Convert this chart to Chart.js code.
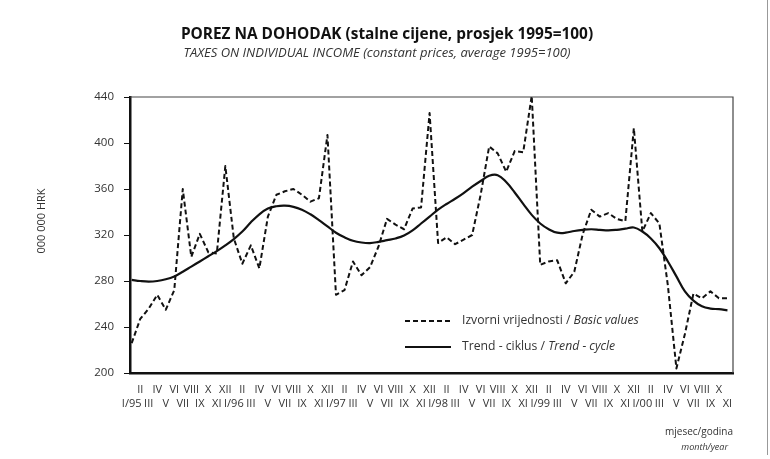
<!DOCTYPE html>
<html>
<head>
<meta charset="utf-8">
<script src="https://cdn.jsdelivr.net/npm/chart.js@4.4.1/dist/chart.umd.min.js"></script>
<style>
  html, body { margin: 0; padding: 0; background: #fff; }
</style>
</head>
<body>
<canvas id="porez" width="770" height="459"></canvas>
<script>
// months I/95 .. XI/00
const romans = ['I', 'II', 'III', 'IV', 'V', 'VI', 'VII', 'VIII', 'IX', 'X', 'XI', 'XII'];
const years = ['95', '96', '97', '98', '99', '00'];

const basicValues = [
  226, 247, 256, 268, 255, 272, 360, 301, 321, 305, 304, 380,
  317, 295, 311, 291, 336, 355, 358, 360, 355, 349, 352, 407,
  268, 272, 297, 285, 292, 310, 334, 329, 325, 343, 344, 426,
  313, 318, 312, 316, 320, 355, 397, 391, 375, 393, 392, 441,
  294, 297, 298, 278, 288, 321, 342, 336, 339, 334, 332, 413,
  323, 339, 330, 276, 204, 234, 269, 265, 271, 265, 265
];

const trendCycle = [
  281, 280, 279.5, 280, 281.5, 284, 288, 292.5, 297, 301.5, 306, 311,
  316.5, 323, 331, 338, 343, 345, 345.5, 344.5, 342, 338, 333, 327.5,
  322, 318, 315, 313.5, 313, 314, 315.5, 317, 319.5, 324, 330, 336,
  342, 347, 351.5, 356.5, 362, 367, 371.5, 372, 366, 357, 347, 337.5,
  330, 325, 322, 322, 323.5, 324.5, 325, 324.5, 324, 324.5, 325.5, 326.5,
  323, 317, 308.5, 297, 284, 271, 263, 258, 256, 255.5, 254.5
];

const yTicks = [200, 240, 280, 320, 360, 400, 440];

const monthLabels = basicValues.map((v, i) => {
  const m = i % 12;
  return m === 0 ? romans[m] + '/' + years[Math.floor(i / 12)] : romans[m];
});

const FONT = '"Open Sans", Lato, sans-serif';
const INK = '#111';
const TEXT = '#333';
const DASH = [5, 3];

const textPlugin = {
  id: 'texts',
  afterDraw(chart) {
    const { ctx, chartArea: a } = chart;
    ctx.save();

    // top/right frame
    ctx.strokeStyle = '#444';
    ctx.lineWidth = 1.2;
    ctx.beginPath();
    ctx.moveTo(a.left, a.top);
    ctx.lineTo(a.right, a.top);
    ctx.lineTo(a.right, a.bottom);
    ctx.stroke();

    // page edge line
    ctx.strokeStyle = '#999';
    ctx.lineWidth = 1;
    ctx.beginPath();
    ctx.moveTo(767.5, 0);
    ctx.lineTo(767.5, 455);
    ctx.stroke();

    ctx.textBaseline = 'middle';
    ctx.textAlign = 'center';
    ctx.fillStyle = INK;
    ctx.font = 'bold 15.4px ' + FONT;
    ctx.fillText('POREZ NA DOHODAK (stalne cijene, prosjek 1995=100)', 387, 35);
    ctx.fillStyle = TEXT;
    ctx.font = 'italic 13px ' + FONT;
    ctx.fillText('TAXES ON INDIVIDUAL INCOME (constant prices, average 1995=100)', 377, 53);

    // y title
    ctx.save();
    ctx.translate(42, 221);
    ctx.rotate(-Math.PI / 2);
    ctx.font = '11px ' + FONT;
    ctx.fillText('000 000 HRK', 0, 0);
    ctx.restore();

    ctx.textAlign = 'right';
    ctx.font = '10px ' + FONT;
    ctx.fillText('mjesec/godina', 733, 432);
    ctx.font = 'italic 9px ' + FONT;
    ctx.fillText('month/year', 728, 447);

    // legend
    const rows = [
      { y: 321, dash: DASH, width: 2, plain: 'Izvorni vrijednosti / ', ital: 'Basic values' },
      { y: 347, dash: [], width: 2.2, plain: 'Trend - ciklus / ', ital: 'Trend - cycle' }
    ];
    ctx.textAlign = 'left';
    rows.forEach(r => {
      ctx.strokeStyle = INK;
      ctx.lineWidth = r.width;
      ctx.setLineDash(r.dash);
      ctx.beginPath();
      ctx.moveTo(405, r.y);
      ctx.lineTo(451, r.y);
      ctx.stroke();
      ctx.setLineDash([]);
      ctx.fillStyle = TEXT;
      ctx.font = '12.2px ' + FONT;
      ctx.fillText(r.plain, 462, r.y);
      const w = ctx.measureText(r.plain).width;
      ctx.font = 'italic 12.2px ' + FONT;
      ctx.fillText(r.ital, 462 + w, r.y);
    });

    ctx.restore();
  }
};

new Chart(document.getElementById('porez'), {
  type: 'line',
  data: {
    datasets: [
      {
        label: 'Izvorni vrijednosti / Basic values',
        data: basicValues.map((v, i) => ({ x: i, y: v })),
        borderColor: INK,
        borderWidth: 2,
        borderDash: DASH,
        borderJoinStyle: 'round',
        pointRadius: 0,
        tension: 0
      },
      {
        label: 'Trend - ciklus / Trend - cycle',
        data: trendCycle.map((v, i) => ({ x: i, y: v })),
        borderColor: INK,
        borderWidth: 2.2,
        pointRadius: 0,
        tension: 0.4
      }
    ]
  },
  options: {
    responsive: false,
    animation: false,
    devicePixelRatio: 1,
    layout: { padding: { left: 0, right: 37, top: 97, bottom: 46 } },
    plugins: {
      legend: { display: false },
      tooltip: { enabled: false }
    },
    scales: {
      x: {
        type: 'linear',
        min: -0.2,
        max: 70.65,
        afterFit: s => { s.height = 40; },
        afterBuildTicks: s => { s.ticks = monthLabels.map((l, i) => ({ value: i })); },
        grid: { display: false },
        border: { display: true, color: INK, width: 2.5 },
        ticks: {
          autoSkip: false,
          maxRotation: 0,
          minRotation: 0,
          padding: 2,
          color: TEXT,
          font: { family: FONT, size: 11, lineHeight: 1.27 },
          callback: (v, i) => (i % 2 === 0 ? ['', monthLabels[i]] : [monthLabels[i]])
        }
      },
      y: {
        min: 200,
        max: 440,
        afterFit: s => { s.width = 130; },
        afterBuildTicks: s => { s.ticks = yTicks.map(v => ({ value: v })); },
        grid: { drawOnChartArea: false, drawTicks: true, tickLength: 6, color: INK },
        border: { display: true, color: INK, width: 2.5 },
        ticks: {
          padding: 10,
          color: TEXT,
          font: { family: FONT, size: 11.5 }
        }
      }
    }
  },
  plugins: [textPlugin]
});
</script>
</body>
</html>
